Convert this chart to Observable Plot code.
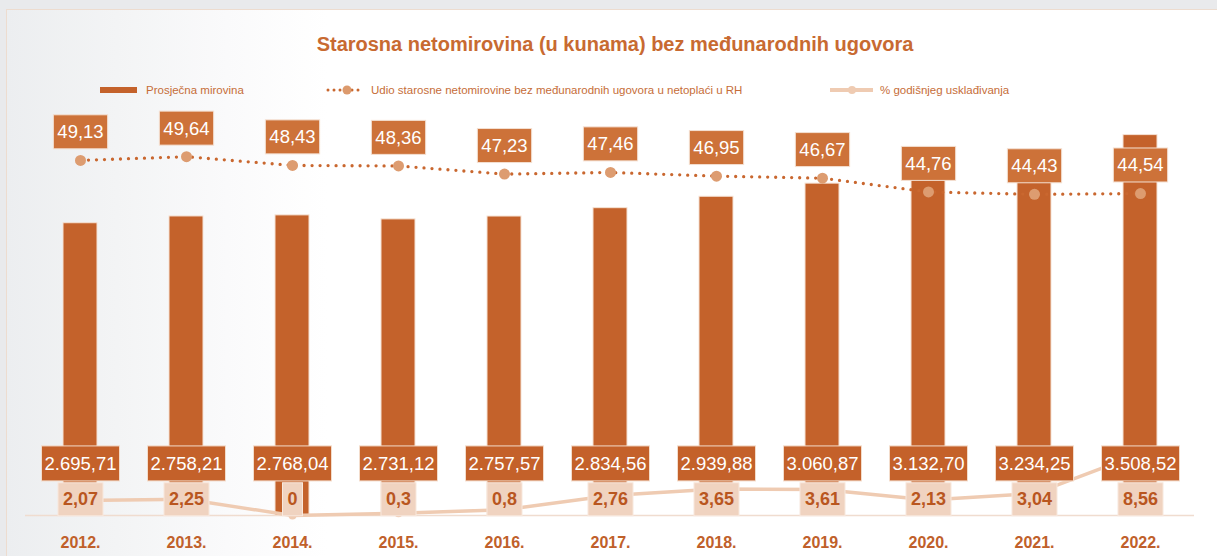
<!DOCTYPE html>
<html>
<head>
<meta charset="utf-8">
<script src="https://cdn.jsdelivr.net/npm/d3@7"></script>
<script src="https://cdn.jsdelivr.net/npm/@observablehq/plot@0.6"></script>
<style>
  html, body { margin: 0; padding: 0; }
  body { width: 1217px; height: 556px; overflow: hidden; position: relative; background: #e9eaec; font-family: "Liberation Sans", Arial, sans-serif; }
  #frame { position: absolute; left: 6px; top: 9px; right: 0; bottom: 0; border-top: 1.5px solid #eddccf; border-left: 1.5px solid #eddccf;
           background: linear-gradient(to right, #eceef0 0px, #f3f4f5 110px, #fafafb 220px, #ffffff 320px); }
  #title { position: absolute; top: 33px; left: 0; width: 1230px; text-align: center; font-size: 20px; font-weight: bold; color: #c86a31; white-space: nowrap; }
  .leg { position: absolute; top: 81px; height: 18px; display: flex; align-items: center; font-size: 11.5px; color: #c66d38; white-space: nowrap; }
  .leg svg { display: block; margin-right: 4px; }
  #chart { position: absolute; left: 0; top: 100px; }
  #chart svg [aria-label^="x-axis"] text { font-size: 16px; font-weight: bold; fill: #c0602a; }
</style>
</head>
<body>
<div id="frame"></div>
<div id="title">Starosna netomirovina (u kunama) bez međunarodnih ugovora</div>
<div class="leg" style="left:100px"><svg width="42" height="10"><rect x="0" y="2" width="37" height="6" fill="#c4622b"></rect></svg>Prosječna mirovina</div>
<div class="leg" style="left:325px"><svg width="42" height="12"><line x1="3" y1="6" x2="37" y2="6" stroke="#c9672f" stroke-width="3" stroke-dasharray="0 6" stroke-linecap="round"></line><circle cx="22" cy="6" r="4.5" fill="#dc9a6d"></circle></svg>Udio starosne netomirovine bez međunarodnih ugovora u netoplaći u RH</div>
<div class="leg" style="left:829px"><svg width="47" height="12"><line x1="1" y1="6" x2="44" y2="6" stroke="#efcbb2" stroke-width="4"></line><circle cx="23" cy="6" r="4" fill="#efcbb2"></circle></svg>% godišnjeg usklađivanja</div>
<div id="chart"></div>
<script>
// ---- data ----
const years = ["2012.", "2013.", "2014.", "2015.", "2016.", "2017.", "2018.", "2019.", "2020.", "2021.", "2022."];
const prosjecnaMirovina = [2695.71, 2758.21, 2768.04, 2731.12, 2757.57, 2834.56, 2939.88, 3060.87, 3132.70, 3234.25, 3508.52];
const udioUNetoplaci = [49.13, 49.64, 48.43, 48.36, 47.23, 47.46, 46.95, 46.67, 44.76, 44.43, 44.54];
const godisnjeUskladivanje = [2.07, 2.25, 0, 0.3, 0.8, 2.76, 3.65, 3.61, 2.13, 3.04, 8.56];

const rows = years.map((year, i) => ({
  year,
  mirovina: prosjecnaMirovina[i],
  udio: udioUNetoplaci[i],
  uskl: godisnjeUskladivanje[i]
}));

// secondary axis (percent) mapped onto the primary axis
const ySec = d3.scaleLinear().domain([0, 57]).range([0, 3800]);

const hr = d3.formatLocale({decimal: ",", thousands: ".", grouping: [3], currency: ["", ""]});
const fmtMoney = hr.format(",.2f");
const fmtUdio = hr.format(".2f");
const fmtPct = d => String(d).replace(".", ",");

const FONT = "Liberation Sans, Arial, sans-serif";

const chart = Plot.plot({
  width: 1217,
  height: 456,
  marginLeft: 25,
  marginRight: 23,
  marginTop: 3,
  marginBottom: 41,
  style: {background: "transparent", fontFamily: FONT, overflow: "visible", color: "#c0602a"},
  x: {type: "band", domain: years, paddingInner: 0.68, paddingOuter: 0.34, label: null, tickSize: 0, tickPadding: 21},
  y: {domain: [0, 3800], axis: null},
  marks: [
    Plot.ruleY([0], {stroke: "#f0dccf", strokeWidth: 1.5}),
    Plot.barY(rows, {x: "year", y: "mirovina", fill: "#c4622b", stroke: "#f6e2d4", strokeWidth: 1}),
    Plot.line(rows, {x: "year", y: d => ySec(d.uskl), stroke: "#efcbb2", strokeWidth: 3.5}),
    Plot.dot(rows, {x: "year", y: d => ySec(d.uskl), r: 4, fill: "#efcbb2"}),
    Plot.line(rows, {x: "year", y: d => ySec(d.udio), stroke: "#c9672f", strokeWidth: 3.3, strokeDasharray: "0 8", strokeLinecap: "round"}),
    Plot.dot(rows, {x: "year", y: d => ySec(d.udio), r: 5.5, fill: "#dd9c70"}),
    Plot.text(rows, {x: "year", y: 0, text: d => fmtMoney(d.mirovina), dy: -51.5, lineAnchor: "middle", fill: "white", fontSize: 18.5, fontFamily: FONT}),
    Plot.text(rows, {x: "year", y: 0, text: d => fmtPct(d.uskl), dy: -16, lineAnchor: "middle", fill: "#b9561f", fontSize: 18, fontWeight: "bold", fontFamily: FONT}),
    Plot.text(rows, {x: "year", y: d => ySec(d.udio), text: d => fmtUdio(d.udio), dy: -28, lineAnchor: "middle", fill: "white", fontSize: 18.5, fontFamily: FONT})
  ]
});

document.getElementById("chart").append(chart);

// label boxes behind the data labels
const ns = "http://www.w3.org/2000/svg";
const specs = [
  {h: 35, padX: 3, fill: "#c4612a", stroke: "#f3dccb"},
  {h: 33, padX: 5, fill: "#f0d3c0", stroke: "#f8e9de"},
  {h: 34, padX: 4, fill: "#cd7239", stroke: "#f4e0d2"}
];
chart.querySelectorAll('g[aria-label="text"]').forEach((g, k) => {
  const s = specs[k];
  if (!s) return;
  g.querySelectorAll("text").forEach(t => {
    const b = t.getBBox();
    const r = document.createElementNS(ns, "rect");
    const cy = b.y + b.height / 2;
    r.setAttribute("x", b.x - s.padX);
    r.setAttribute("width", b.width + 2 * s.padX);
    r.setAttribute("y", cy - s.h / 2);
    r.setAttribute("height", s.h);
    r.setAttribute("fill", s.fill);
    r.setAttribute("stroke", s.stroke);
    r.setAttribute("stroke-width", 1);
    const tr = t.getAttribute("transform");
    if (tr) r.setAttribute("transform", tr);
    g.insertBefore(r, t);
  });
});
</script>
</body>
</html>
